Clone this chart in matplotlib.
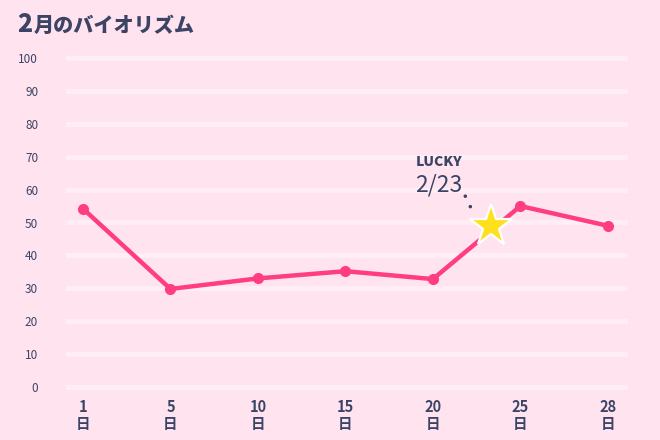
import matplotlib.pyplot as plt

plt.rcParams['font.family'] = ['Noto Sans CJK JP', 'DejaVu Sans']

days = ['1', '5', '10', '15', '20', '25', '28']
values = [54.2, 29.8, 33.0, 35.2, 32.8, 55.0, 49.0]
lucky_pos = 4.66
lucky_value = 49.0
lucky_label = '2/23'
yticks = list(range(0, 101, 10))

bg = '#ffe4f0'
ink = '#3b4465'
pink = '#ff3d80'

fig = plt.figure(figsize=(6.6, 4.4), dpi=100, facecolor=bg)
ax = fig.add_axes([66 / 660, (440 - 387 - 6.58) / 440, (628 - 66) / 660, (329 + 13.16) / 440])
ax.set_facecolor(bg)
ax.set_xlim(-0.194, 6.23)
ax.set_ylim(-2, 102)

for v in yticks:
    ax.axhline(v, color='#ffeef6', lw=3.5, solid_capstyle='round', zorder=1)

xs = list(range(len(days)))
ax.plot(xs, values, color=pink, lw=3.2, marker='o', ms=7, zorder=3)

ax.plot([lucky_pos], [lucky_value], marker='*', ms=32, color='#ffe01f',
        markeredgecolor='white', markeredgewidth=1.6, zorder=5)
# dotted leader from label to star
ax.plot([lucky_pos - 0.29, lucky_pos - 0.19], [lucky_value + 9, lucky_value + 3.5],
        ls=(0, (0.01, 3.2)), color=ink, lw=2.6, dash_capstyle='round', zorder=4)
ax.text(lucky_pos - 0.86, lucky_value + 19.5, 'LUCKY', fontsize=10, fontweight='heavy',
        color=ink, ha='left', va='center')
ax.text(lucky_pos - 0.86, lucky_value + 12.5, lucky_label, fontsize=16.5,
        color=ink, ha='left', va='center')

for s in ax.spines.values():
    s.set_visible(False)
ax.set_xticks(xs)
ax.set_xticklabels([d + '\n日' for d in days], fontsize=10.5, color=ink,
                   fontweight='bold', linespacing=1.05)
ax.set_yticks(yticks)
ax.set_yticklabels([str(v) for v in yticks], fontsize=8.5, color=ink)
ax.tick_params(length=0)
ax.tick_params(axis='y', pad=20)
ax.tick_params(axis='x', pad=4)

fig.text(17 / 660, 1 - 32 / 440, '2', fontsize=18, fontweight='heavy', color=ink, va='baseline')
fig.text(34 / 660, 1 - 32 / 440, '月のバイオリズム', fontsize=14.5, fontweight='heavy', color=ink, va='baseline')

fig.savefig('out.png', dpi=100, facecolor=bg)
